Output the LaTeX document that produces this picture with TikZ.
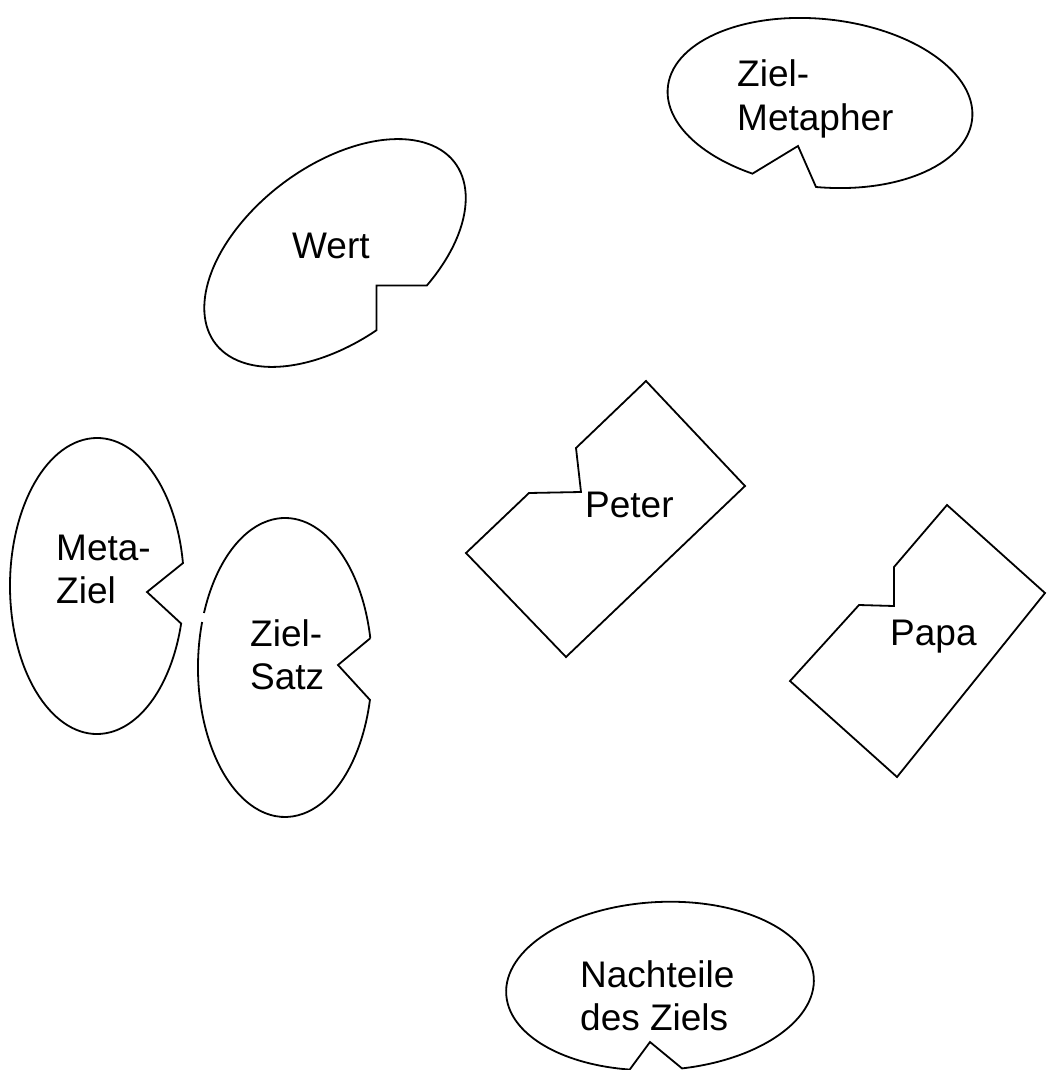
\documentclass[tikz,border=0pt]{standalone}
\usepackage{fontspec}
\setmainfont{Liberation Sans}
\begin{document}
\begin{tikzpicture}[x=1pt,y=-1pt,
  outline/.style={draw=black,line width=1.8pt,line join=miter},
  txt/.style={anchor=base west,inner sep=0pt,font=\fontsize{37}{43.5}\selectfont}]
\useasboundingbox (0,0) rectangle (1046,1070);

% tips of the inward notches
\coordinate (zmtip) at (798,146);
\coordinate (mztip) at (147,592);
\coordinate (zstip) at (338,665);
\coordinate (natip) at (650,1042);

% Ziel-Metapher: slightly tilted oval with a notch at the bottom
\begin{scope}[shift={(820,103)},rotate=-6]
  \draw[outline] (271.8:153pt and 84pt)
    arc[start angle=271.8,end angle=607,x radius=153pt,y radius=84pt]
    -- (zmtip) -- cycle;
\end{scope}
\node[txt] (zm) at (737,87) {\begin{tabular}[t]{@{}l@{}}Ziel-\\Metapher\end{tabular}};

% Wert: tilted oval with a square notch
\begin{scope}[shift={(335,253)},rotate=37]
  \coordinate (w1) at (-69:150pt and 87pt);
  \coordinate (w2) at (264.9:150pt and 87pt);
\end{scope}
\coordinate (wc) at (w2 |- w1);
\begin{scope}[shift={(335,253)},rotate=37]
  \draw[outline] (w1)
    arc[start angle=-69,end angle=264.9,x radius=150pt,y radius=87pt]
    -- (wc) -- cycle;
\end{scope}
\node[txt] (wert) at (292,258) {Wert};

% Meta-Ziel: upright oval, notch on the right
\begin{scope}[shift={(97,586)}]
  \draw[outline] (8.9:87pt and 148pt)
    arc[start angle=8.9,end angle=345.3,x radius=87pt,y radius=148pt]
    -- (mztip) -- cycle;
\end{scope}
\node[txt] (mz) at (56,560) {\begin{tabular}[t]{@{}l@{}}Meta-\\Ziel\end{tabular}};

% Ziel-Satz: upright oval, notch on the right
\begin{scope}[shift={(285,667.5)}]
  \draw[outline] (11.3:87pt and 149.5pt)
    arc[start angle=11.3,end angle=158.6,x radius=87pt,y radius=149.5pt];
  \draw[outline] (162.3:87pt and 149.5pt)
    arc[start angle=162.3,end angle=347.5,x radius=87pt,y radius=149.5pt]
    -- (zstip) -- (11.3:87pt and 149.5pt);
\end{scope}
\node[txt] (zs) at (250,646) {\begin{tabular}[t]{@{}l@{}}Ziel-\\Satz\end{tabular}};

% Peter: tilted card with a step cut out
\draw[outline] (466,553) -- (529,493) -- (581,492) -- (576,448) -- (646,381)
  -- (745,486) -- (566,657) -- cycle;
\node[txt] (peter) at (585,517) {Peter};

% Papa: tilted card with a step cut out
\draw[outline] (790,681) -- (859,605) -- (894,606) -- (894,567) -- (947,505)
  -- (1045,593) -- (897,777) -- cycle;
\node[txt] (papa) at (890,645) {Papa};

% Nachteile des Ziels: wide oval with a notch at the bottom
\begin{scope}[shift={(660,986)},rotate=3]
  \draw[outline] (276.6:154pt and 84pt)
    arc[start angle=276.6,end angle=617,x radius=154pt,y radius=84pt]
    -- (natip) -- cycle;
\end{scope}
\node[txt] (na) at (580,987) {\begin{tabular}[t]{@{}l@{}}Nachteile\\des Ziels\end{tabular}};
\end{tikzpicture}
\end{document}
